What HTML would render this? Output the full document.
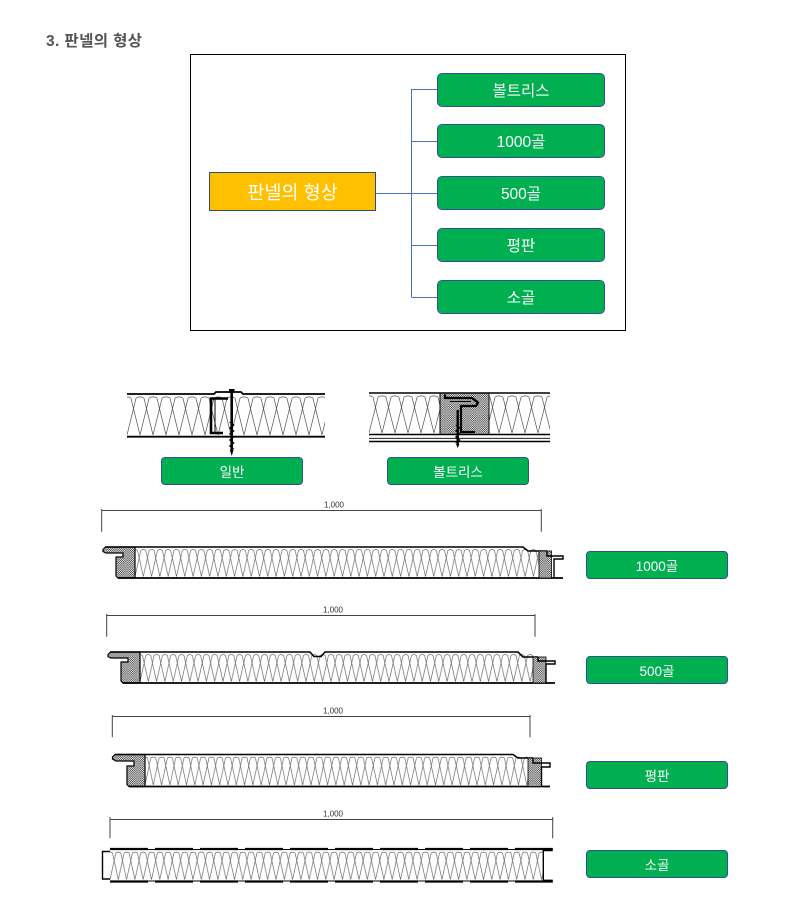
<!DOCTYPE html>
<html><head><meta charset="utf-8">
<style>
html,body{margin:0;padding:0;background:#fff;}
body{width:787px;height:903px;position:relative;overflow:hidden;font-family:"Liberation Sans","Noto Sans CJK KR",sans-serif;}
.t{position:absolute;left:46px;top:33px;font-size:15.5px;font-weight:bold;color:#555;line-height:18px;white-space:nowrap;letter-spacing:0.4px;}
.g{position:absolute;box-sizing:border-box;background:#00B050;border:1px solid #2F528F;border-radius:5px;color:#fff;display:flex;align-items:center;justify-content:center;white-space:nowrap;}
.tg{left:437px;width:168px;height:34px;font-size:15.5px;}
.lg{width:142px;height:28px;font-size:13.5px;border-radius:4px;}
.y{position:absolute;left:209px;top:172px;width:167px;height:39px;box-sizing:border-box;background:#FFC000;border:1px solid #2F4B7C;color:#fff;font-size:18.5px;display:flex;align-items:center;justify-content:center;white-space:nowrap;}
svg{position:absolute;left:0;top:0;}
</style></head><body>
<svg width="787" height="903" viewBox="0 0 787 903" xmlns="http://www.w3.org/2000/svg">
<defs>
<pattern id="dots" patternUnits="userSpaceOnUse" width="2.2" height="2.2">
<rect width="2.2" height="2.2" fill="#fff"/>
<circle cx="0.55" cy="0.55" r="0.6" fill="#222"/>
<circle cx="1.65" cy="1.65" r="0.6" fill="#222"/>
</pattern>
<pattern id="ij1" patternUnits="userSpaceOnUse" x="127" y="395" width="13" height="41">
<g fill="none" stroke="#555" stroke-width="0.7">
<path d="M0,40 L9.1,3 Q13,0.8 16.9,3 L26,40"/>
<path d="M-13,40 L-3.9,3 Q0,0.8 3.9,3 L13,40"/>
</g></pattern>
<pattern id="ij2" patternUnits="userSpaceOnUse" x="369" y="394" width="13" height="40">
<g fill="none" stroke="#555" stroke-width="0.7">
<path d="M0,39 L9.1,3 Q13,0.8 16.9,3 L26,39"/>
<path d="M-13,39 L-3.9,3 Q0,0.8 3.9,3 L13,39"/>
</g></pattern>
<pattern id="ip1" patternUnits="userSpaceOnUse" x="135" y="548" width="8.3" height="29.5">
<g fill="none" stroke="#555" stroke-width="0.6">
<path d="M0,28.5 L5.8,2.5 Q8.3,0.6 10.8,2.5 L16.6,28.5"/>
<path d="M-8.3,28.5 L-2.5,2.5 Q0,0.6 2.5,2.5 L8.3,28.5"/>
</g></pattern>
<pattern id="ip2" patternUnits="userSpaceOnUse" x="140" y="653" width="8.3" height="29.5">
<g fill="none" stroke="#555" stroke-width="0.6">
<path d="M0,28.5 L5.8,2.5 Q8.3,0.6 10.8,2.5 L16.6,28.5"/>
<path d="M-8.3,28.5 L-2.5,2.5 Q0,0.6 2.5,2.5 L8.3,28.5"/>
</g></pattern>
<pattern id="ip3" patternUnits="userSpaceOnUse" x="145" y="755.5" width="8.3" height="30.5">
<g fill="none" stroke="#555" stroke-width="0.6">
<path d="M0,29.5 L5.8,2.5 Q8.3,0.6 10.8,2.5 L16.6,29.5"/>
<path d="M-8.3,29.5 L-2.5,2.5 Q0,0.6 2.5,2.5 L8.3,29.5"/>
</g></pattern>
<pattern id="ip4" patternUnits="userSpaceOnUse" x="110" y="850.5" width="8.3" height="30">
<g fill="none" stroke="#555" stroke-width="0.6">
<path d="M0,29 L5.8,2.5 Q8.3,0.6 10.8,2.5 L16.6,29"/>
<path d="M-8.3,29 L-2.5,2.5 Q0,0.6 2.5,2.5 L8.3,29"/>
</g></pattern>
</defs>

<!-- top tree frame -->
<rect x="190.5" y="54.5" width="435" height="276" fill="none" stroke="#000" stroke-width="1"/>
<g stroke="#4472C4" stroke-width="1" fill="none">
<path d="M411.5,89 L411.5,297"/>
<path d="M411.5,89.5 L437,89.5"/>
<path d="M411.5,141.5 L437,141.5"/>
<path d="M375,193.5 L437,193.5"/>
<path d="M411.5,245.5 L437,245.5"/>
<path d="M411.5,297.5 L437,297.5"/>
</g>

<!-- Joint 1 (일반) -->
<rect x="127" y="395" width="198" height="41" fill="url(#ij1)"/>
<path d="M127,394 L214,394 L216,392 L241,392 L243,394 L325,394" fill="none" stroke="#000" stroke-width="1.8"/>
<path d="M127,436.7 L325,436.7" fill="none" stroke="#000" stroke-width="1.8"/>
<path d="M228,398.5 L211,398.5 L211,433 L223,433" fill="none" stroke="#000" stroke-width="2.6"/>
<path d="M215,399 L215,432" fill="none" stroke="#000" stroke-width="1"/>
<rect x="229" y="389" width="5.5" height="4" fill="#000"/>
<path d="M231.7,391 L231.7,450" stroke="#000" stroke-width="2.6"/>
<path d="M229.5,422 L234,425 L229.5,428 L234,431 L229.5,434 L234,437 L229.5,440 L234,443 L229.5,446 L234,449" fill="none" stroke="#000" stroke-width="0.9"/>
<path d="M229.8,450 L231.7,456 L233.6,450 Z" fill="#000"/>

<!-- Joint 2 (볼트리스) -->
<rect x="369" y="394" width="181" height="40" fill="url(#ij2)"/>
<rect x="440" y="393" width="49" height="41.5" fill="url(#dots)" stroke="#000" stroke-width="1"/>
<path d="M369,393 L550,393" stroke="#000" stroke-width="1.6"/>
<path d="M369,434.5 L550,434.5" stroke="#000" stroke-width="1.5"/>
<path d="M369,438.3 L550,438.3" stroke="#000" stroke-width="0.8"/>
<path d="M369,441.5 L550,441.5" stroke="#000" stroke-width="1.5"/>
<path d="M445,394.5 L445,398 L472,398 L478,402.5 L476,406 L461,406 L461,432 L475,432" fill="none" stroke="#000" stroke-width="2.2"/>
<path d="M450,401.5 L471,401.5" stroke="#000" stroke-width="1"/>
<path d="M457.7,410 L457.7,444" stroke="#000" stroke-width="2.4"/>
<path d="M455.5,425 L460,428 L455.5,431 L460,434 L455.5,437 L460,440 L455.5,443" fill="none" stroke="#000" stroke-width="0.8"/>
<path d="M456,444 L457.7,448 L459.4,444 Z" fill="#000"/>

<!-- Dimension lines -->
<g stroke="#444" stroke-width="1" fill="none">
<path d="M101.7,510.5 L541.3,510.5 M101.7,509 L101.7,531.7 M541.3,509 L541.3,531.7"/>
<path d="M106.7,615.5 L535,615.5 M106.7,614 L106.7,636.7 M535,614 L535,636.7"/>
<path d="M112.3,716.5 L530,716.5 M112.3,715 L112.3,737.3 M530,715 L530,737.3"/>
<path d="M110,819.5 L552.7,819.5 M110,817 L110,838.3 M552.7,817 L552.7,838.3"/>
</g>
<g font-family="Liberation Sans, sans-serif" font-size="8" fill="#333" text-anchor="middle">
<text x="334" y="507.5">1,000</text>
<text x="333" y="612.5">1,000</text>
<text x="333" y="713.5">1,000</text>
<text x="333" y="816.5">1,000</text>
</g>

<!-- Panel 1 (1000골) -->
<rect x="135" y="548" width="404" height="29.5" fill="url(#ip1)"/>
<path d="M103,549.5 L105.5,547 L135,547 L135,578 L118,578 L116,576 L116,557 L123,557 L123,553 L106,553 L103,551.5 Z" fill="url(#dots)" stroke="#000" stroke-width="1.2"/>
<path d="M105.5,547 L523,547 L528,551 L547,551" fill="none" stroke="#000" stroke-width="1.6"/>
<path d="M118,578 L563,578" stroke="#000" stroke-width="1.8"/>
<rect x="539" y="551" width="12.5" height="27" fill="url(#dots)" stroke="#000" stroke-width="0.8"/>
<path d="M547,551 L547,556 L563,556 L563,559 L554,559 L554,578" fill="none" stroke="#000" stroke-width="1.4"/>

<!-- Panel 2 (500골) -->
<rect x="140" y="653" width="393" height="29.5" fill="url(#ip2)"/>
<path d="M108,654.5 L110.5,652 L140,652 L140,683 L123,683 L121,681 L121,662 L128,662 L128,658 L111,658 L108,656.5 Z" fill="url(#dots)" stroke="#000" stroke-width="1.2"/>
<path d="M110.5,652 L310,652 L314,656.5 L321,656.5 L325,652 L518,652 L523,657 L538,657" fill="none" stroke="#000" stroke-width="1.6"/>
<path d="M123,683 L555,683" stroke="#000" stroke-width="1.8"/>
<rect x="533" y="657" width="13" height="26" fill="url(#dots)" stroke="#000" stroke-width="0.8"/>
<path d="M538,657 L538,661 L555,661 L555,664 L546,664 L546,683" fill="none" stroke="#000" stroke-width="1.4"/>

<!-- Panel 3 (평판) -->
<rect x="145" y="755.5" width="383" height="30.5" fill="url(#ip3)"/>
<path d="M112.5,757 L115,754.5 L145,754.5 L145,786.5 L129,786.5 L127,784.5 L127,766 L134,766 L134,761 L116,761 L112.5,759 Z" fill="url(#dots)" stroke="#000" stroke-width="1.2"/>
<path d="M115,754.5 L513,754.5 L518,758 L533,758" fill="none" stroke="#000" stroke-width="1.6"/>
<path d="M129,786.5 L550,786.5" stroke="#000" stroke-width="1.8"/>
<rect x="528" y="758" width="13.5" height="28.5" fill="url(#dots)" stroke="#000" stroke-width="0.8"/>
<path d="M533,758 L533,763 L550,763 L550,767 L541.5,767 L541.5,786.5" fill="none" stroke="#000" stroke-width="1.4"/>

<!-- Panel 4 (소골) -->
<rect x="110" y="850.5" width="433" height="30" fill="url(#ip4)"/>
<path d="M110,849.5 L552.7,849.5 M110,881 L552.7,881" stroke="#000" stroke-width="1.1"/>
<path d="M110,849 L552.7,849 M110,881.5 L552.7,881.5" stroke="#000" stroke-width="2.2" stroke-dasharray="38 7"/>
<path d="M110,851.5 L102.5,851.5 L102.5,879 L110,879" fill="none" stroke="#000" stroke-width="1.4"/>
<path d="M543.3,850 L543.3,881" stroke="#000" stroke-width="1.4"/>
<path d="M543.3,850 L552.7,850 M543.3,880.8 L552.7,880.8" stroke="#000" stroke-width="2.4"/>
</svg>

<div class="t">3. 판넬의 형상</div>
<div class="y">판넬의 형상</div>
<div class="g tg" style="top:73px;">볼트리스</div>
<div class="g tg" style="top:124px;">1000골</div>
<div class="g tg" style="top:176px;">500골</div>
<div class="g tg" style="top:228px;">평판</div>
<div class="g tg" style="top:280px;">소골</div>

<div class="g lg" style="left:161px;top:457px;">일반</div>
<div class="g lg" style="left:387px;top:457px;">볼트리스</div>
<div class="g lg" style="left:586px;top:551px;">1000골</div>
<div class="g lg" style="left:586px;top:656px;">500골</div>
<div class="g lg" style="left:586px;top:761px;">평판</div>
<div class="g lg" style="left:586px;top:850px;">소골</div>
</body></html>
